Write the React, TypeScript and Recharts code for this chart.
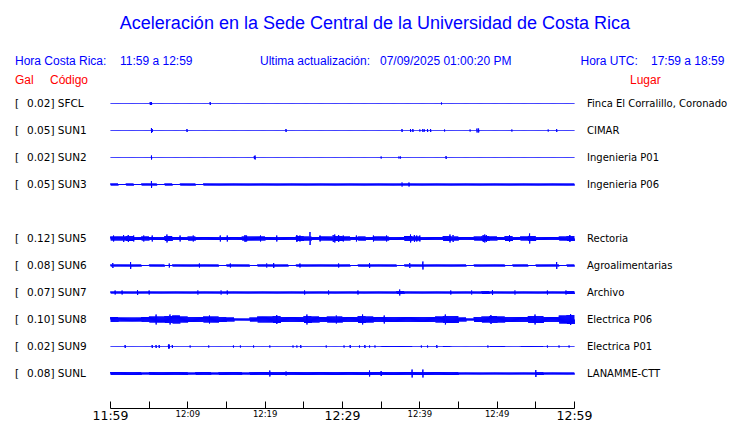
import React from 'react';
import { LineChart, Line, XAxis, YAxis } from 'recharts';

// ---------------- data ----------------
const stations = ['SFCL', 'SUN1', 'SUN2', 'SUN3', 'SUN5', 'SUN6', 'SUN7', 'SUN8', 'SUN9', 'SUNL'];
const peakGal = ['0.02', '0.05', '0.02', '0.05', '0.12', '0.08', '0.07', '0.10', '0.02', '0.08'];
const places = [
  'Finca El Corralillo, Coronado',
  'CIMAR',
  'Ingenieria P01',
  'Ingenieria P06',
  'Rectoria',
  'Agroalimentarias',
  'Archivo',
  'Electrica P06',
  'Electrica P01',
  'LANAMME-CTT',
];
const timeTicks = [0, 5, 10, 15, 20, 25, 30, 35, 40, 45, 50, 55, 60];
const timeLabels = ['11:59', '', '12:09', '', '12:19', '', '12:29', '', '12:39', '', '12:49', '', '12:59'];
const majorLabels = ['11:59', '12:29', '12:59'];

// per-minute envelope (relative amplitude) of each trace, minutes 0..59
const envSFCL = [0,0,0,0,0,0,0,0,0,0, 0,0,0,0,0,0,0,0,0,0, 0,0,0,0,0,0,0,0,0,0, 0,0,0,0,0,0,0,0,0,0, 0,0,0,0,0,0,0,0,0,0, 0,0,0,0,0,0,0,0,0,0];
const envSUN1 = [0,0,0,0,0,0,0,0,0,0, 0,0,0,0,0,0,0,0,0,0, 0,0,0,0,0,0,0,0,0,0, 0,0,0,0,0,0,0,0,0,0, 0,0,0,0,0,0,0,0,0,0, 0,0,0,0,0,0,0,0,0,0];
const envSUN2 = [0,0,0,0,0,0,0,0,0,0, 0,0,0,0,0,0,0,0,0,0, 0,0,0,0,0,0,0,0,0,0, 0,0,0,0,0,0,0,0,0,0, 0,0,0,0,0,0,0,0,0,0, 0,0,0,0,0,0,0,0,0,0];
const envSUN3 = [2,1,2,1,2,2,1,2,1,2, 2,1,2,2,2,2,2,2,2,2, 2,2,2,2,2,2,2,2,2,2, 2,2,2,2,2,2,2,2,2,2, 2,2,2,2,2,2,2,2,2,2, 2,2,2,2,2,2,2,2,2,2];
const envSUN5 = [4,4,5,3,4,3,3,5,3,3, 4,3,3,3,3,3,3,4,4,4, 3,3,3,3,5,4,3,4,4,5, 4,3,4,3,4,4,3,3,5,4, 3,3,3,5,4,3,3,4,5,4, 3,5,3,4,5,3,3,3,4,5];
const envSUN6 = [2,2,2,2,1,2,2,1,2,2, 2,2,2,2,1,2,2,2,1,2, 2,2,2,1,2,2,2,2,2,2, 2,1,2,2,2,2,2,1,2,2, 2,2,2,2,2,2,1,2,2,2, 2,1,2,2,1,2,2,2,1,2];
const envSUN7 = [2,2,2,2,2,2,2,2,2,2, 2,2,2,2,2,2,2,2,2,2, 2,2,2,2,2,2,2,2,2,2, 2,2,2,2,2,2,2,3,2,2, 2,2,2,2,2,2,2,2,3,2, 2,2,2,2,2,2,2,2,2,3];
const envSUN8 = [5,4,4,4,5,6,6,7,8,6, 5,5,6,6,5,4,2,2,4,6, 6,7,5,5,5,7,6,5,6,6, 5,5,7,6,5,5,5,5,5,5, 5,5,6,7,7,4,2,5,6,7, 6,5,5,5,7,7,5,5,8,9];
const envSUN9 = [0,0,0,0,0,0,0,0,0,0, 0,0,0,0,0,0,0,0,0,0, 0,0,0,0,0,0,0,0,0,0, 0,0,0,0,0,1,1,1,1,0, 0,0,0,1,0,0,0,0,0,1, 1,0,0,1,1,1,0,0,0,0];
const envSUNL = [3,3,3,3,2,3,3,3,3,3, 2,3,3,2,3,3,3,2,3,3, 3,3,3,3,3,3,3,3,3,3, 3,3,3,3,3,3,3,3,3,3, 3,3,3,3,3,2,2,2,2,2, 2,2,2,2,2,3,2,2,2,2];

// isolated spikes: [minute, relative amplitude]
const spkSFCL = [[5.15, 3], [5.3, 3], [12.9, 3], [42.8, 2]];
const spkSUN1 = [[5.3, 5], [5.4, 3], [9.9, 3], [22.7, 3], [37.7, 3], [38.8, 3], [39.1, 3], [40, 2], [40.4, 3], [40.6, 2], [41, 3], [41.4, 3], [43.2, 2], [46.5, 2], [47.4, 4], [47.6, 4], [51.9, 2], [56.6, 2], [57.7, 3]];
const spkSUN2 = [[5.3, 4], [18.6, 3], [18.7, 4], [35, 2], [37.3, 2], [37.5, 2], [43.4, 3]];
const spkSUN3 = [[5.3, 7], [37.7, 4], [38.6, 4]];
const spkSUN5 = [[0.4, 6], [1.7, 7], [2.3, 7], [3, 6], [4.3, 6], [5.4, 6], [7.3, 8], [9, 6], [10.7, 6], [14.2, 6], [15.1, 6], [17.4, 7], [17.6, 6], [19.4, 6], [21.5, 6], [24.1, 7], [24.5, 6], [25.8, 13], [27.1, 6], [28.8, 7], [29, 8], [29.5, 7], [30.1, 6], [31.8, 6], [34, 6], [35.7, 6], [38.8, 8], [39.3, 7], [39.6, 6], [40, 6], [43.9, 8], [44.3, 7], [48.2, 7], [48.4, 8], [48.6, 7], [51.6, 7], [54.2, 10], [59.4, 7]];
const spkSUN6 = [[0.3, 5], [2.6, 7], [7.6, 4], [11.5, 4], [15.5, 4], [20.2, 4], [21.1, 5], [24.5, 4], [29.5, 4], [33.5, 5], [38.7, 5], [40.4, 8], [57.7, 7]];
const spkSUN7 = [[0.6, 4], [1.5, 4], [3.5, 5], [5, 4], [11.3, 4], [14.3, 4], [15.1, 4], [25.1, 4], [28.2, 4], [32, 4], [37.4, 6], [44, 4], [46.7, 4], [49.4, 5], [52.3, 4], [56.5, 4], [58.9, 4]];
const spkSUN8 = [[5.9, 10], [7.7, 10], [12.8, 8], [21.5, 9], [25.4, 10], [29.2, 8], [32.6, 10], [35.4, 8], [43.3, 10], [49.2, 9], [54.9, 10], [59.5, 11]];
const spkSUN9 = [[1.9, 3], [5.4, 3], [5.9, 3], [6.3, 3], [7.5, 4], [7.6, 4], [8, 3], [10.3, 2], [12.7, 2], [15.9, 2], [16.8, 2], [18.5, 2], [20.6, 2], [23.6, 2], [24.1, 2], [24.6, 3], [27.9, 2], [30.2, 2], [31, 3], [32.2, 2], [32.9, 3], [33.5, 2], [34.2, 2], [40.2, 2], [41, 2], [42.2, 3], [48.8, 2], [56.5, 2], [58, 2], [59.3, 2]];
const spkSUNL = [[20.6, 6], [22.7, 4], [33.5, 6], [35, 5], [39, 8], [40.4, 8], [55, 7]];

const envelopes = [envSFCL, envSUN1, envSUN2, envSUN3, envSUN5, envSUN6, envSUN7, envSUN8, envSUN9, envSUNL];
const spikes = [spkSFCL, spkSUN1, spkSUN2, spkSUN3, spkSUN5, spkSUN6, spkSUN7, spkSUN8, spkSUN9, spkSUNL];

// ---------------- layout ----------------
const W = 740;
const H = 423;
const PLOT_TOP = 90;
const AXIS_Y = 408.5;
const ROW0 = 103.5;
const ROW_GAP = 27;
const rowSlots = [0, 1, 2, 3, 5, 6, 7, 8, 9, 10];
const AMP = 0.5;
const SUB = 16;
const BLUE = '#0000ff';
const RED = '#ff0000';

const centers = rowSlots.map((s) => -(ROW0 + s * ROW_GAP));

function buildTrace(env: number[], spk: number[][], center: number) {
  const pts: { t: number; v: number }[] = [];
  env.forEach((a, i) => {
    for (let j = 0; j < SUB; j++) {
      const t = i + (j + 0.5) / SUB;
      const sign = j % 2 === 0 ? 1 : -1;
      pts.push({ t, v: center + sign * a * AMP });
    }
  });
  spk.forEach(([t, a]) => {
    pts.push({ t: t - 0.004, v: center + a * AMP });
    pts.push({ t: t + 0.004, v: center - a * AMP });
  });
  pts.sort((p, q) => p.t - q.t);
  return [{ t: 0, v: center }, ...pts, { t: 60, v: center }];
}

const traces = stations.map((_, k) => buildTrace(envelopes[k], spikes[k], centers[k]));

const LeftTick = (props: any) => {
  const { y, payload } = props;
  const k = centers.indexOf(payload.value);
  if (k < 0) return null;
  return (
    <g>
      <text x={15} y={y + 3.5} fontSize={10.5} fontFamily="DejaVu Sans" fill="#000">[</text>
      <text x={27} y={y + 3.5} fontSize={10.5} fontFamily="DejaVu Sans" fill="#000">
        {peakGal[k] + '] ' + stations[k]}
      </text>
    </g>
  );
};

const RightTick = (props: any) => {
  const { y, payload } = props;
  const k = centers.indexOf(payload.value);
  if (k < 0) return null;
  return (
    <text x={587} y={y + 3.5} fontSize={10} fontFamily="DejaVu Sans" fill="#000">
      {places[k]}
    </text>
  );
};

const TimeTick = (props: any) => {
  const { x, payload } = props;
  const i = timeTicks.indexOf(payload.value);
  const lbl = i >= 0 ? timeLabels[i] : '';
  const big = majorLabels.includes(lbl);
  const xs = Math.round(x - 0.5) + 0.5;
  return (
    <g>
      <line x1={xs} x2={xs} y1={AXIS_Y - 7} y2={AXIS_Y} stroke="#000" strokeWidth={1} />
      {lbl ? (
        <text
          x={x}
          y={big ? 420 : 417}
          textAnchor="middle"
          fontSize={big ? 12.5 : 8.5}
          fontFamily="DejaVu Sans"
          fill="#000"
        >
          {lbl}
        </text>
      ) : null}
    </g>
  );
};

const hdr = { fontFamily: 'Liberation Sans, Arial, sans-serif', fontSize: 12 };

export default function App() {
  return (
    <div style={{ position: 'absolute', left: 0, top: 0, width: W, height: H, background: '#fff' }}>
      <LineChart
        width={W}
        height={H}
        margin={{ top: PLOT_TOP, right: 0, bottom: 0, left: 0 }}
      >
        <XAxis
          dataKey="t"
          type="number"
          domain={[0, 60]}
          ticks={timeTicks}
          interval={0}
          tickLine={false}
          axisLine={{ stroke: '#000' }}
          tick={<TimeTick />}
          height={H - AXIS_Y}
          allowDuplicatedCategory={false}
        />
        <YAxis
          yAxisId="left"
          type="number"
          domain={[-AXIS_Y, -PLOT_TOP]}
          ticks={centers}
          interval={0}
          width={110.5}
          axisLine={false}
          tickLine={false}
          tick={<LeftTick />}
          allowDataOverflow
        />
        <YAxis
          yAxisId="right"
          orientation="right"
          type="number"
          domain={[-AXIS_Y, -PLOT_TOP]}
          ticks={centers}
          interval={0}
          width={165.5}
          axisLine={false}
          tickLine={false}
          tick={<RightTick />}
          allowDataOverflow
        />
        {traces.map((d, k) => (
          <Line
            key={stations[k]}
            yAxisId="left"
            data={d}
            dataKey="v"
            type="linear"
            stroke={BLUE}
            strokeWidth={1}
            dot={false}
            activeDot={false}
            isAnimationActive={false}
          />
        ))}
        <text x={375} y={29} textAnchor="middle" fill={BLUE} fontFamily="Liberation Sans, Arial, sans-serif" fontSize={18}>
          Aceleración en la Sede Central de la Universidad de Costa Rica
        </text>
        <text x={15} y={64.5} fill={BLUE} {...hdr}>Hora Costa Rica:</text>
        <text x={120} y={64.5} fill={BLUE} {...hdr}>11:59 a 12:59</text>
        <text x={260} y={64.5} fill={BLUE} {...hdr}>Ultima actualización:</text>
        <text x={380} y={64.5} fill={BLUE} {...hdr}>07/09/2025 01:00:20 PM</text>
        <text x={580.5} y={64.5} fill={BLUE} {...hdr}>Hora UTC:</text>
        <text x={651} y={64.5} fill={BLUE} {...hdr}>17:59 a 18:59</text>
        <text x={15} y={83.5} fill={RED} {...hdr}>Gal</text>
        <text x={50} y={83.5} fill={RED} {...hdr}>Código</text>
        <text x={630} y={83.5} fill={RED} {...hdr}>Lugar</text>
      </LineChart>
    </div>
  );
}
